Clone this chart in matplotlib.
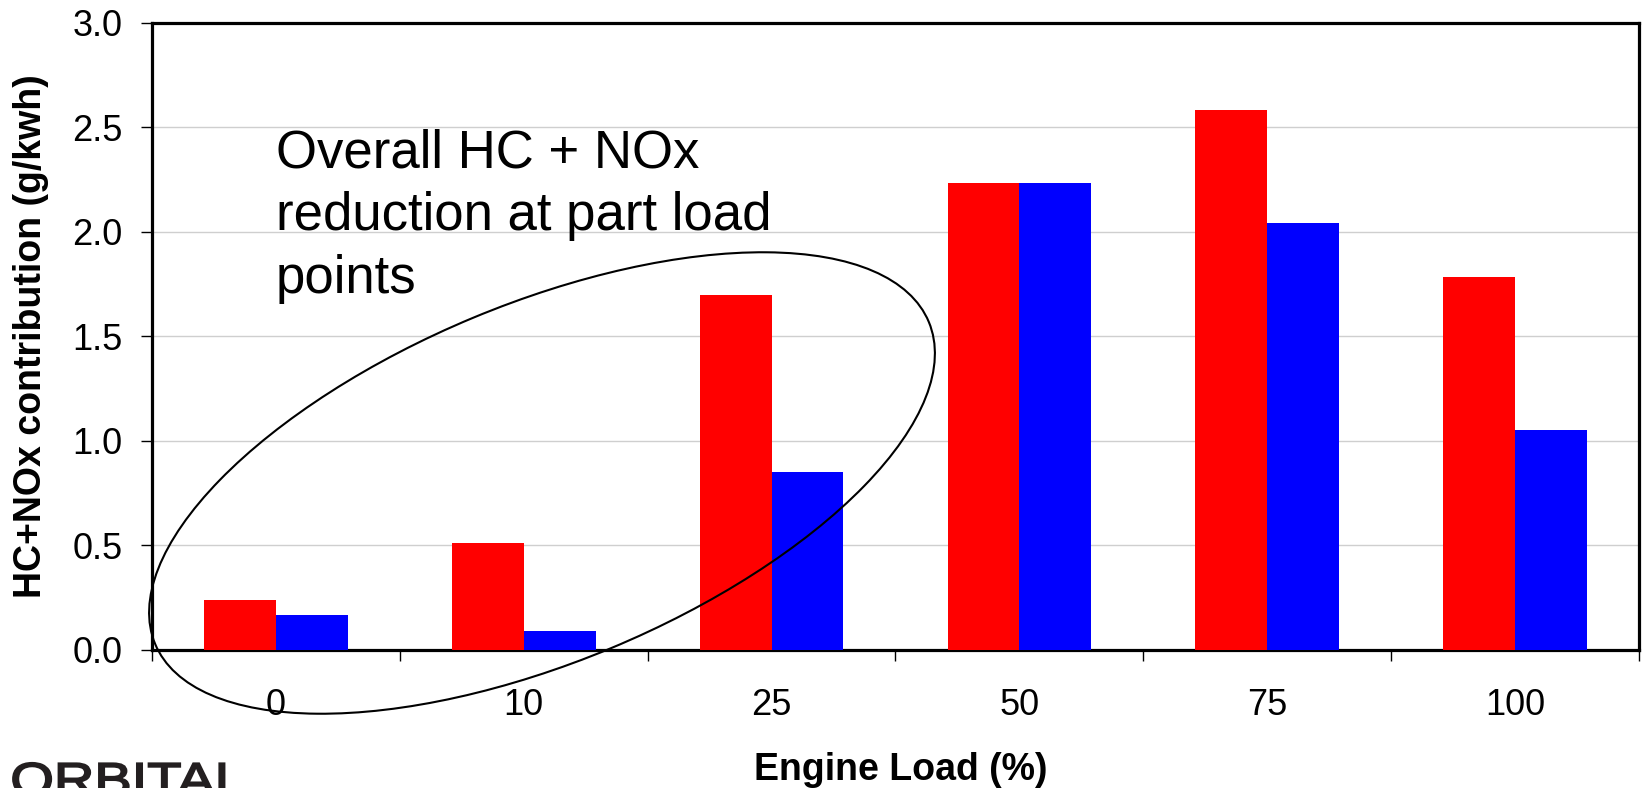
import matplotlib
matplotlib.use("Agg")
import matplotlib.pyplot as plt
from matplotlib.patches import Ellipse, PathPatch
from matplotlib.textpath import TextPath
from matplotlib.font_manager import FontProperties
from matplotlib.transforms import Affine2D
import numpy as np

categories = ["0", "10", "25", "50", "75", "100"]
baseline = [0.236, 0.509, 1.697, 2.233, 2.582, 1.783]
improved = [0.165, 0.089, 0.852, 2.235, 2.041, 1.053]
y_ticks = [0.0, 0.5, 1.0, 1.5, 2.0, 2.5, 3.0]

plt.rcParams['font.family'] = ['Liberation Sans', 'DejaVu Sans']

W, H = 1647, 788
DPI = 100
fig = plt.figure(figsize=(W / DPI, H / DPI), dpi=DPI)
fig.patch.set_facecolor("white")

L, R, T, B = 152, 1639, 23, 649.5
ax = fig.add_axes([L / W, (H - B) / H, (R - L) / W, (B - T) / H])

x = np.arange(len(categories))
bw = 0.29
ax.bar(x - bw / 2, baseline, width=bw, color="#ff0000", zorder=3, linewidth=0)
ax.bar(x + bw / 2, improved, width=bw, color="#0000ff", zorder=3, linewidth=0)

ax.set_xlim(-0.5, len(categories) - 0.5)
ax.set_ylim(0, 3.0)
ax.set_yticks(y_ticks)
ax.set_yticklabels([f"{v:.1f}" for v in y_ticks])
ax.tick_params(axis="y", direction="out", length=8, width=1, pad=13, labelsize=26, colors="black")

ax.set_xticks(np.arange(-0.5, len(categories)), minor=False)
ax.set_xticklabels([])
ax.set_xticks(x, minor=True)
ax.set_xticklabels(categories, minor=True)
ax.tick_params(axis="x", which="major", direction="out", length=8, width=1)
ax.tick_params(axis="x", which="minor", length=0, pad=28, labelsize=26)

ax.yaxis.grid(True, color="#cfcfcf", linewidth=1.0, zorder=0)
ax.set_axisbelow(True)
for s in ax.spines.values():
    s.set_linewidth(2.3)
    s.set_color("black")

ax.set_ylabel("HC+NOx contribution (g/kwh)", fontsize=27, fontweight="bold")
ax.yaxis.set_label_coords(-(L - 31) / (R - L), 0.5)
ax.yaxis.label.set_va("center")
fig.text(0.5 * (L + R) / W + 5 / W, 1 - 770 / H, "Engine Load (%)", fontsize=27, fontweight="bold",
         ha="center", va="center")

# annotation text
lines = ["Overall HC + NOx", "reduction at part load", "points"]
baselines_px = [167, 230, 293]
for s, by in zip(lines, baselines_px):
    fig.text(276 / W, 1 - by / H, s, fontsize=38, ha="left", va="baseline")

# ellipse (figure pixels -> inches)
ell = Ellipse((542 / DPI, (H - 483) / DPI), 838 / DPI, 358 / DPI, angle=22.6,
              transform=fig.dpi_scale_trans, fill=False, edgecolor="black", linewidth=1.5,
              zorder=10)
fig.patches.append(ell)

# ORBITAL logo text (stretched)
fp = FontProperties(family="Liberation Sans")
tp = TextPath((0, 0), "ORBITAL", size=100, prop=fp)
ext = tp.get_extents()
sx = 231 / ext.width
sy = 33 / 71.6
logo = PathPatch(tp, facecolor="#231f20", edgecolor="#231f20", linewidth=1.3,
                 transform=Affine2D().translate(-ext.x0, 0).scale(sx, sy).translate(13, H - 795)
                 + Affine2D().scale(1.0 / DPI) + fig.dpi_scale_trans)
fig.patches.append(logo)

fig.savefig("out.png", dpi=DPI, facecolor="white")
